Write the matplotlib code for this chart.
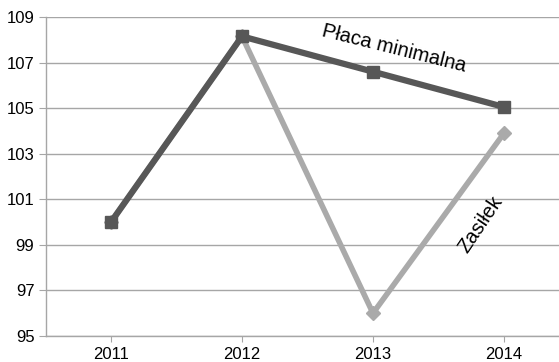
import matplotlib.pyplot as plt

plt.rcParams['font.family'] = ['Liberation Sans', 'DejaVu Sans']

years = ['2011', '2012', '2013', '2014']
placa = [100.0, 108.15, 106.6, 105.05]
zasilek = [100.0, 108.15, 96.0, 103.9]
yticks = [95, 97, 99, 101, 103, 105, 107, 109]

fig = plt.figure(figsize=(5.59, 3.62), dpi=100)
ax = fig.add_axes([45.5 / 559, 26 / 362, 1 - 45.5 / 559, (336 - 17) / 362])

x = range(len(years))
ax.plot(x, zasilek, color='#aaaaaa', lw=4, marker='D', ms=7, zorder=3)
ax.plot(x, placa, color='#575757', lw=4.5, marker='s', ms=9, zorder=4)

ax.set_ylim(95, 109)
ax.set_yticks(yticks)
ax.set_xlim(-0.5, 3.42)
ax.set_xticks(list(x))
ax.set_xticklabels(years)
ax.grid(axis='y', color='#a6a6a6', lw=1)
ax.set_axisbelow(True)
for s in ['top', 'right']:
    ax.spines[s].set_visible(False)
for s in ['left', 'bottom']:
    ax.spines[s].set_color('#a6a6a6')
    ax.spines[s].set_linewidth(1)
ax.tick_params(axis='y', length=5, color='#a6a6a6', labelsize=12, pad=3)
ax.tick_params(axis='x', length=4, color='#a6a6a6', labelsize=12, pad=4)

ax.text(2.16, 107.6, 'Płaca minimalna', rotation=-14, fontsize=14.5,
        ha='center', va='center', rotation_mode='anchor')
ax.text(2.82, 99.9, 'Zasiłek', rotation=56, fontsize=14.5,
        ha='center', va='center', rotation_mode='anchor')

fig.savefig('out.png', dpi=100)
